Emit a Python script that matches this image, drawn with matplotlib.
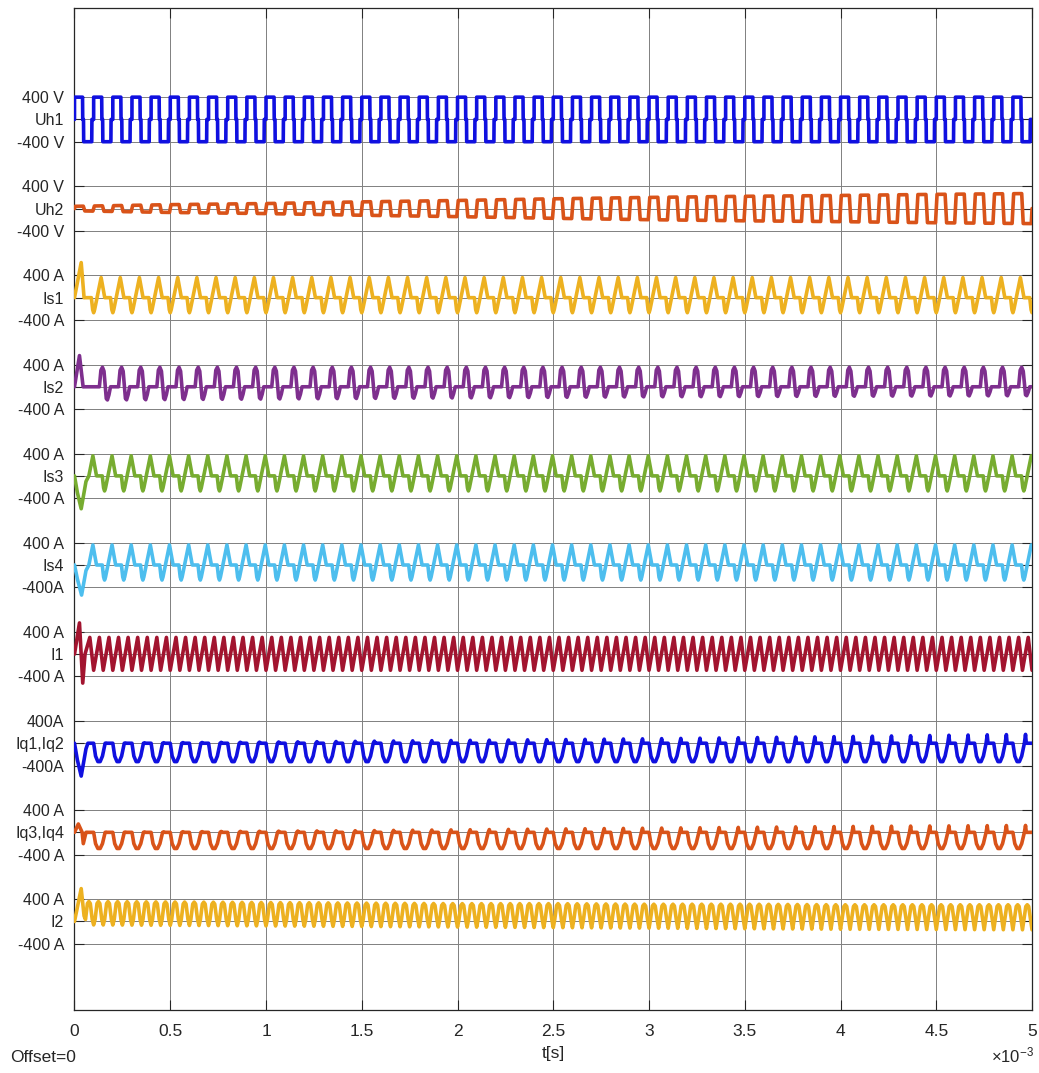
import numpy as np
import matplotlib.pyplot as plt

# time axis limit (s)
T_END = 5e-3

# channel names, tick labels and colours, top to bottom
names = ["Uh1", "Uh2", "Is1", "Is2", "Is3", "Is4", "I1", "Iq1,Iq2", "Iq3,Iq4", "I2"]
top_labels = ["400 V", "400 V", "400 A", "400 A", "400 A", "400 A", "400 A", "400A", "400 A", "400 A"]
bot_labels = ["-400 V", "-400 V", "-400 A", "-400 A", "-400 A", "-400A", "-400 A", "-400A", "-400 A", "-400 A"]
colors = ["#1010e0", "#d95319", "#edb120", "#7e2f8e", "#77ac30",
          "#4dbeee", "#a2142f", "#1010e0", "#d95319", "#edb120"]

# switching periods (s) and time shift of the first period (s)
periods = [1e-4, 1e-4, 1e-4, 1e-4, 1e-4, 1e-4, 5e-5, 1e-4, 1e-4, 5e-5]
shifts = [0, 0, 0, 0, 0.57e-4, 0.57e-4, 0, 0, 0, 0]

# one period of each waveform: phase breakpoints and normalised level
# (+1 -> upper envelope, -1 -> lower envelope)
shape_phase = [
    [0.0, 0.001, 0.42, 0.43, 0.47, 0.48, 0.90, 0.91, 0.99, 1.0],
    [0.0, 0.04, 0.46, 0.54, 0.96, 1.0],
    [0.0, 0.05, 0.39, 0.58, 0.88, 0.95, 1.0],
    [0.0, 0.30, 0.38, 0.46, 0.54, 0.66, 0.72, 0.80, 0.88, 1.0],
    [0.0, 0.05, 0.39, 0.58, 0.88, 0.95, 1.0],
    [0.0, 0.05, 0.39, 0.58, 0.88, 0.95, 1.0],
    [0.0, 0.60, 1.0],
    [0.0, 0.10, 0.22, 0.34, 0.46, 0.60, 0.66, 0.70, 1.0],
    [0.0, 0.10, 0.22, 0.34, 0.46, 0.60, 0.66, 0.70, 1.0],
    [0.0, 0.15, 0.35, 0.5, 0.65, 0.85, 1.0],
]
shape_level = [
    [0, 1, 1, 0, 0, -1, -1, 0, 0, 0],
    [0, 1, 1, -1, -1, 0],
    [-1, -0.8, 1, 0, 0, -0.8, -1],
    [0, 0, 0.85, 1, 0.8, -0.9, -1, -0.6, 0, 0],
    [-1, -0.8, 1, 0, 0, -0.8, -1],
    [-1, -0.8, 1, 0, 0, -0.8, -1],
    [-1, 1, -1],
    [0, -0.7, -1, -1, -0.7, 0, 1, 0, 0],
    [0, -0.7, -1, -1, -0.7, 0, 1, 0, 0],
    [-1, 0.1, 0.9, 1, 0.9, 0.1, -1],
]

# amplitude envelopes sampled every 0.5 ms (A or V)
env_t = [0, 0.5e-3, 1e-3, 1.5e-3, 2e-3, 2.5e-3, 3e-3, 3.5e-3, 4e-3, 4.5e-3, 5e-3]
env_hi = [
    [400] * 11,
    [40, 70, 90, 120, 145, 175, 200, 220, 235, 255, 270],
    [360] * 11,
    [350] * 11,
    [360] * 11,
    [360] * 11,
    [300] * 11,
    [0, 10, 20, 35, 50, 65, 80, 100, 120, 140, 160],
    [0, 10, 20, 30, 45, 60, 75, 90, 105, 115, 125],
    [360, 350, 340, 330, 320, 320, 310, 310, 300, 300, 300],
]
env_lo = [
    [400] * 11,
    [40, 70, 90, 120, 145, 175, 200, 220, 235, 255, 270],
    [270] * 11,
    [240, 230, 220, 210, 200, 190, 180, 175, 170, 165, 160],
    [270] * 11,
    [270] * 11,
    [290] * 11,
    [330] * 11,
    [290] * 11,
    [60, 70, 80, 90, 100, 110, 120, 130, 140, 145, 150],
]

# start-up transients (time s, value), replacing the first cycle
start_t = [None, None,
           [0, 0.035e-3, 0.05e-3, 0.08e-3],
           [0, 0.026e-3, 0.045e-3, 0.08e-3],
           [0, 0.015e-3, 0.035e-3, 0.06e-3, 0.075e-3],
           [0, 0.015e-3, 0.037e-3, 0.06e-3, 0.075e-3],
           [0, 0.026e-3, 0.043e-3, 0.055e-3],
           [0, 0.015e-3, 0.035e-3, 0.06e-3, 0.07e-3],
           [0, 0.02e-3, 0.04e-3],
           [0, 0.035e-3, 0.05e-3]]
start_v = [None, None,
           [0, 630, 0, 0],
           [0, 560, 0, 0],
           [0, -300, -590, -100, 0],
           [0, -250, -540, -100, 0],
           [0, 560, -520, 0],
           [0, -300, -590, -100, 0],
           [0, 150, 0],
           [0, 590, 100]]

SPACING = 1600
offsets = [SPACING * (len(names) - 1 - i) for i in range(len(names))]


def trace(i):
    T = periods[i]
    ph = np.asarray(shape_phase[i])
    lv = np.asarray(shape_level[i])
    n = int(round(T_END / T))
    k = np.arange(-1, n + 1)
    tt = ((k[:, None] + ph[None, :]) * T).ravel() + shifts[i]
    ll = np.tile(lv, len(k))
    keep = (tt >= 0) & (tt <= T_END)
    tt, ll = tt[keep], ll[keep]
    hi = np.interp(tt, env_t, env_hi[i])
    lo = np.interp(tt, env_t, env_lo[i])
    yy = np.where(ll >= 0, ll * hi, ll * lo)
    if start_t[i] is not None:
        t0 = start_t[i][-1]
        keep = tt > t0
        tt = np.concatenate([start_t[i], tt[keep]])
        yy = np.concatenate([start_v[i], yy[keep]])
    return tt, yy


fig = plt.figure(figsize=(10.39, 10.73), dpi=100)
plt.rcParams["font.family"] = ["Liberation Sans", "DejaVu Sans"]
ax = fig.add_axes([0.0717, 0.0587, 0.9216, 0.9338])

for i in range(len(names)):
    tt, yy = trace(i)
    ax.plot(tt, yy + offsets[i], color=colors[i], lw=2.6,
            solid_joinstyle="round", solid_capstyle="round", zorder=3)

yticks, ylabels = [], []
for i in range(len(names)):
    yticks += [offsets[i] - 400, offsets[i], offsets[i] + 400]
    ylabels += [bot_labels[i], names[i], top_labels[i]]

ax.set_yticks(yticks)
ax.set_yticklabels(ylabels)
ax.set_ylim(-1590, 16400)
ax.set_xlim(0, T_END)
xt = np.arange(0, 5.01, 0.5)
ax.set_xticks(xt * 1e-3)
ax.set_xticklabels([f"{v:g}" for v in xt])

ax.grid(True, color="#808080", lw=0.7)
ax.tick_params(direction="in", length=7, width=0.8, top=True, right=True,
               colors="#262626", labelsize=11.5)
ax.tick_params(axis="x", pad=10, labelsize=12.5)
ax.tick_params(axis="y", pad=7.5)
for s in ax.spines.values():
    s.set_color("#262626")
    s.set_linewidth(0.9)

ax.set_xlabel("t[s]", fontsize=12.5, color="#262626", labelpad=5)
fig.text(0.995, 0.0160, r"$\mathregular{\times10^{-3}}$", ha="right", va="center",
         fontsize=12, color="#262626")
fig.text(0.0096, 0.0149, "Offset=0", ha="left", va="center", fontsize=12.5, color="#262626")

fig.savefig("out.png", dpi=100)
